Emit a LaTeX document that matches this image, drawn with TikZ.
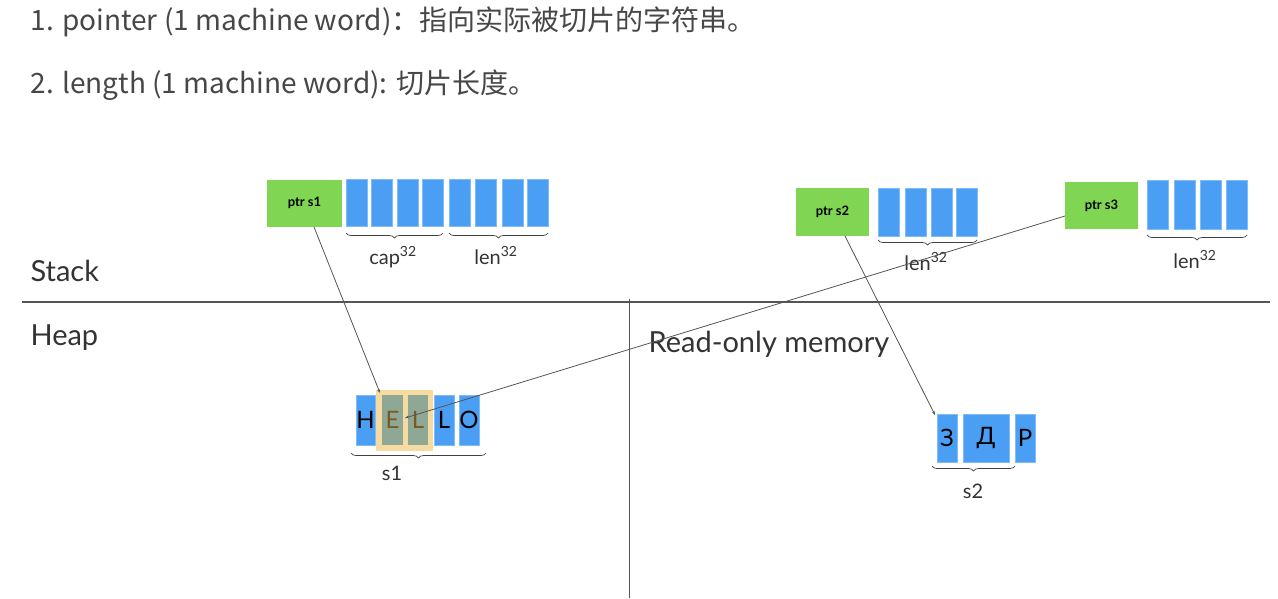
\documentclass[tikz,border=0pt]{standalone}
\usepackage{fontspec}
\setmainfont{Lato}
\newfontfamily\cjkf{Noto Sans CJK SC}
\usetikzlibrary{decorations.pathreplacing,arrows.meta,calc}
\definecolor{gr}{HTML}{80D552}
\definecolor{bl}{HTML}{4A9FF5}
\definecolor{tan}{HTML}{F5DBA0}
\definecolor{sel}{HTML}{8FA896}
\definecolor{txt}{HTML}{333333}
\definecolor{ln}{HTML}{555555}
\definecolor{brn}{HTML}{7A5A22}
\tikzset{
  ptrbox/.style={fill=gr,draw=none,inner sep=0,font=\fontsize{13}{13}\selectfont\bfseries},
  cell/.style={fill=bl,draw=bl!70!white,line width=0.5pt,inner sep=0,font=\fontsize{24}{24}\selectfont},
  selcell/.style={fill=sel,draw=none,inner sep=0,font=\fontsize{24}{24}\selectfont,text=brn},
  brc/.style={decorate,decoration={brace,mirror,amplitude=5pt},line width=0.7pt,black!75},
  lbl/.style={font=\fontsize{20}{20}\selectfont,text=txt,anchor=base},
  region/.style={font=\fontsize{29}{29}\selectfont,text=txt,anchor=base west},
  link/.style={ln,line width=0.8pt,-{Stealth[length=4pt,width=3pt]}},
  sep/.style={ln,line width=1.2pt},
  topline/.style={font=\cjkf\fontsize{28}{28}\selectfont,text=txt!90!white,anchor=base west}
}
\begin{document}
\begin{tikzpicture}[x=1pt,y=-1pt]
\useasboundingbox[fill=white] (0,0) rectangle (1278,598);
% top text
\node[topline] (t1) at (27,30) {1. pointer (1 machine word)：指向实际被切片的字符串。};
\node[topline] (t2) at (27,93) {2. length (1 machine word): 切片长度。};
% separators
\coordinate (hl) at (22,302); \coordinate (hr) at (1270,302);
\coordinate (vt) at (629,299); \coordinate (vb) at (629,598);
\draw[sep] (hl) -- (hr);
\draw[ln,line width=1pt] (vt) -- (vb);
% region labels
\node[region] (stack) at (27,281) {Stack};
\node[region] (heap) at (27,345) {Heap};
\node[region] (rom) at (645,352) {Read-only memory};
% s1 header
\node[ptrbox,minimum width=75,minimum height=47] (ps1) at (304.5,203) {ptr s1};
\foreach \i/\x in {1/356.5,2/382,3/408,4/432.5,5/459.5,6/486,7/512.5,8/538}
  \node[cell,minimum width=21,minimum height=47] (a\i) at (\x,203) {};
\draw[brc] (346,233) -- (443,233);
\draw[brc] (449,233) -- (548,233);
\node[lbl] (cap1) at (393,264) {cap\textsuperscript{32}};
\node[lbl] (len1) at (496,264) {len\textsuperscript{32}};
% s2 header
\node[ptrbox,minimum width=73,minimum height=48] (ps2) at (832.5,212) {ptr s2};
\foreach \i/\x in {1/888.5,2/916,3/941.5,4/967}
  \node[cell,minimum width=21,minimum height=48] (b\i) at (\x,212) {};
\draw[brc] (878,240) -- (977,240);
\node[lbl] (len2) at (926,270) {len\textsuperscript{32}};
% s3 header
\node[ptrbox,minimum width=73,minimum height=47] (ps3) at (1101.5,205.5) {ptr s3};
\foreach \i/\x in {1/1157.5,2/1185,3/1211,4/1237}
  \node[cell,minimum width=21,minimum height=49] (c\i) at (\x,204.5) {};
\draw[brc] (1147,235) -- (1247,235);
\node[lbl] (len3) at (1195,268) {len\textsuperscript{32}};
% HELLO
\fill[tan] (376,390) rectangle (433,451);
\node[cell,minimum width=19,minimum height=50] (h) at (365.5,420) {H};
\node[selcell,minimum width=21,minimum height=50] (e) at (392.5,420) {E};
\node[selcell,minimum width=20,minimum height=50] (l1) at (418,420) {L};
\node[cell,minimum width=20,minimum height=50] (l2) at (444,420) {L};
\node[cell,minimum width=20,minimum height=50] (o) at (469,420) {O};
\draw[brc] (351,453) -- (486,453);
\node[lbl] (s1) at (392,480) {s1};
% 3 Д P
\node[cell,minimum width=20,minimum height=48] (z) at (947,438) {З};
\node[cell,minimum width=46,minimum height=48] (d) at (986,438) {Д};
\node[cell,minimum width=20,minimum height=48] (p) at (1025,438) {Р};
\draw[brc] (932,466) -- (1015,466);
\node[lbl] (s2) at (973,498) {s2};
% pointers
\coordinate (f1) at (314,227);
\coordinate (t1e) at (380,393);
\coordinate (f2) at (845,236);
\coordinate (t2e) at (935,415);
\coordinate (f3) at (1065,216);
\coordinate (t3e) at (405,418);
\draw[link] (f1) -- (t1e);
\draw[link] (f2) -- (t2e);
\draw[link] (f3) -- (t3e);
\end{tikzpicture}
\end{document}
